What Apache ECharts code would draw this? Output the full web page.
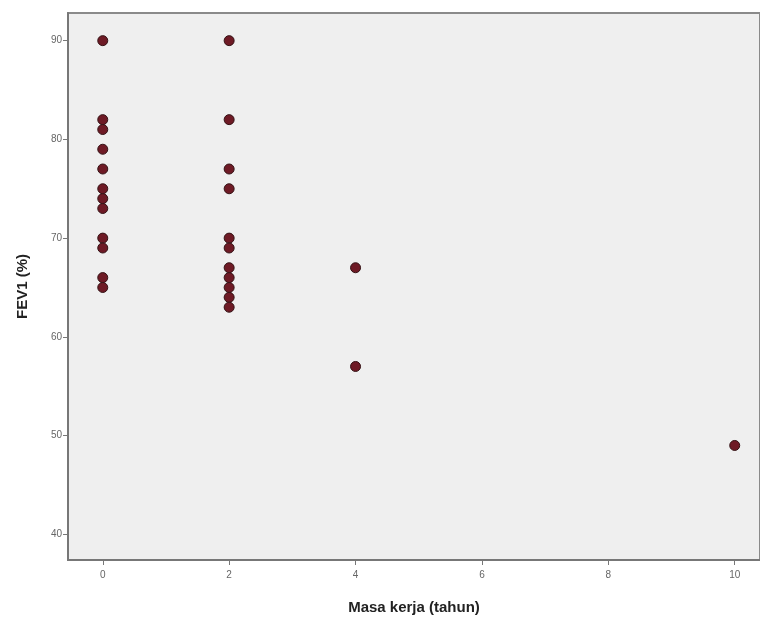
<!DOCTYPE html>
<html>
<head>
<meta charset="utf-8">
<script src="https://cdn.jsdelivr.net/npm/echarts@6/dist/echarts.min.js"></script>
<style>
  html, body { margin: 0; padding: 0; background: #fff; }
  #main { width: 760px; height: 621px; }
</style>
</head>
<body>
<div id="main"></div>
<script>
// masa kerja (tahun) for each worker, and the matching FEV1 (%)
var masaKerja = [0,0,0,0,0,0,0,0,0,0,0,0, 2,2,2,2,2,2,2,2,2,2,2, 4,4, 10];
var fev1 =      [90,82,81,79,77,75,74,73,70,69,66,65, 90,82,77,75,70,69,67,66,65,64,63, 67,57, 49];
var xTicks = [0, 2, 4, 6, 8, 10];
var yTicks = [40, 50, 60, 70, 80, 90];

var points = masaKerja.map(function(x, i){
  return [x, fev1[i]];
});

var chart = echarts.init(document.getElementById('main'));
chart.setOption({
  animation: false,
  grid: {
    left: 68, top: 13, right: 0, bottom: 61,
    show: true,
    backgroundColor: '#efefef',
    borderColor: '#8a8a8a',
    borderWidth: 2
  },
  xAxis: {
    type: 'value',
    min: -0.55, max: 10.4,
    name: 'Masa kerja (tahun)',
    nameLocation: 'middle',
    nameGap: 40,
    nameTextStyle: { fontFamily: 'Liberation Sans', fontWeight: 'bold', fontSize: 15, color: '#222' },
    splitLine: { show: false },
    axisLine: { show: true, onZero: false, lineStyle: { color: '#777', width: 2 } },
    axisTick: { show: true, customValues: xTicks, length: 5, lineStyle: { color: '#777' } },
    axisLabel: { customValues: xTicks, fontFamily: 'Liberation Sans', fontSize: 10, color: '#666', margin: 10 }
  },
  yAxis: {
    type: 'value',
    min: 37.4, max: 92.8,
    name: 'FEV1 (%)',
    nameLocation: 'middle',
    nameGap: 38,
    nameTextStyle: { fontFamily: 'Liberation Sans', fontWeight: 'bold', fontSize: 15, color: '#222' },
    splitLine: { show: false },
    axisLine: { show: true, onZero: false, lineStyle: { color: '#777', width: 2 } },
    axisTick: { show: true, customValues: yTicks, length: 5, lineStyle: { color: '#777' } },
    axisLabel: { customValues: yTicks, fontFamily: 'Liberation Sans', fontSize: 10, color: '#666', margin: 6 }
  },
  series: [{
    type: 'scatter',
    data: points,
    symbol: 'circle',
    symbolSize: 10,
    itemStyle: { color: '#6e1a25', borderColor: '#351316', borderWidth: 1, opacity: 1 }
  }]
});
</script>
</body>
</html>
